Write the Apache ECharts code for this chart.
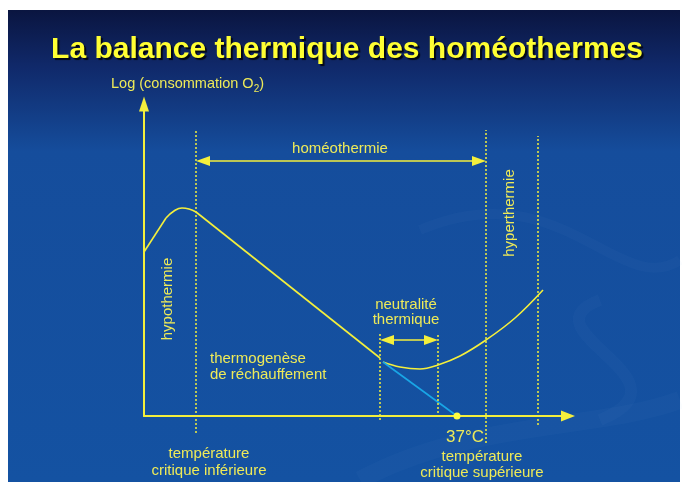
<!DOCTYPE html>
<html>
<head>
<meta charset="utf-8">
<script src="https://cdn.jsdelivr.net/npm/echarts@6/dist/echarts.min.js"></script>
<style>
html,body{margin:0;padding:0;background:#fff;}
#c{width:682px;height:482px;}
</style>
</head>
<body>
<div id="c"></div>
<script>
// Schematic data (x: temperature units, y: log O2 consumption units)
const riseX = [0, 22];
const riseY = [164, 198];
const peakX = [22, 30, 38, 45, 52];
const peakY = [198, 205, 208, 207, 204];
const declineX = [52, 236];
const declineY = [204, 58];
const bowlX = [239, 256, 276, 294, 316, 342, 371, 399];
const bowlY = [54, 49, 47, 51, 60, 76, 98, 126];
const extrapX = [239, 313];
const extrapY = [54, 0];
const bodyTempX = [313];
const bodyTempY = [0];
const limitX = [52, 236, 294, 342, 394];
const limitTop = [286, 83, 83, 286, 280];
const limitBottom = [-17, -4, -1, -27, -9];
const homeoArrow = { y: 255, from: 52, to: 342 };
const neutralArrow = { y: 76, from: 236, to: 294 };

const YEL = '#f4ef3c';
const TXT = '#eeea58';
const FONT = '"Liberation Sans", Arial, sans-serif';

function pairs(xs, ys) { return xs.map((x, i) => [x, ys[i]]); }
function measure(t, font) {
  const c = document.createElement('canvas').getContext('2d');
  c.font = font; return c.measureText(t).width;
}

const series = [];
const curveStyle = { color: YEL, width: 1.6 };
series.push({ type: 'line', data: pairs(riseX, riseY), symbol: 'none', lineStyle: curveStyle, silent: true });
series.push({ type: 'line', data: pairs(peakX, peakY), smooth: 0.5, symbol: 'none', lineStyle: curveStyle, silent: true });
series.push({ type: 'line', data: pairs(declineX, declineY), symbol: 'none', lineStyle: curveStyle, silent: true });
series.push({ type: 'line', data: pairs(bowlX, bowlY), smooth: 0.4, symbol: 'none', lineStyle: curveStyle, silent: true });
series.push({ type: 'line', data: pairs(extrapX, extrapY), symbol: 'none', lineStyle: { color: '#19a6e6', width: 1.6 }, silent: true });
series.push({ type: 'scatter', data: pairs(bodyTempX, bodyTempY), symbolSize: 7, itemStyle: { color: '#ffff40', opacity: 1 }, silent: true, z: 10 });
limitX.forEach((x, i) => {
  series.push({ type: 'line', data: [[x, limitBottom[i]], [x, limitTop[i]]], symbol: 'none', clip: false,
    lineStyle: { color: YEL, width: 1.5, type: [2, 2] }, silent: true });
});
const AH = 14;
series.push({
  type: 'line', data: [], silent: true,
  markLine: {
    silent: true, animation: false,
    symbol: ['triangle', 'triangle'],
    symbolSize: [10, AH],
    label: { show: false },
    lineStyle: { color: YEL, width: 1.5, type: 'solid' },
    data: [
      [{ coord: [homeoArrow.from + AH / 2, homeoArrow.y] }, { coord: [homeoArrow.to - AH / 2, homeoArrow.y] }],
      [{ coord: [neutralArrow.from + AH / 2, neutralArrow.y] }, { coord: [neutralArrow.to - AH / 2, neutralArrow.y] }]
    ]
  }
});

function txt(text, x, y, size, opts) {
  return Object.assign({
    type: 'text', x: x, y: y, z: 50,
    style: Object.assign({ text: text, fill: TXT, font: size + 'px ' + FONT, align: 'center', verticalAlign: 'middle' }, (opts && opts.style) || {})
  }, opts && opts.el || {});
}

const logMain = 'Log (consommation O';
const w1 = measure(logMain, '14.5px ' + FONT);
const w2 = measure('2', '10px ' + FONT);

const swirl = 'rgba(140,190,240,0.04)';
const chart = echarts.init(document.getElementById('c'), null, { renderer: 'canvas' });
chart.setOption({
  animation: false,
  backgroundColor: '#ffffff',
  grid: { left: 144, top: 104, width: 424, height: 312 },
  xAxis: {
    type: 'value', min: 0, max: 424,
    axisLine: { show: true, symbol: ['none', 'triangle'], symbolSize: [11, 14], lineStyle: { color: YEL, width: 2 } },
    axisTick: { show: false }, axisLabel: { show: false }, splitLine: { show: false }
  },
  yAxis: {
    type: 'value', min: 0, max: 312,
    axisLine: { show: true, symbol: ['none', 'triangle'], symbolSize: [10, 15], lineStyle: { color: YEL, width: 2 } },
    axisTick: { show: false }, axisLabel: { show: false }, splitLine: { show: false }
  },
  series: series,
  graphic: [
    { type: 'rect', z: -100, shape: { x: 8, y: 10, width: 672, height: 472 },
      style: { fill: new echarts.graphic.LinearGradient(0, 0, 0, 1, [
        { offset: 0, color: '#0a1540' },
        { offset: 0.12, color: '#10296a' },
        { offset: 0.3, color: '#154d9c' },
        { offset: 1, color: '#1452a2' }
      ]) } },
    { type: 'bezierCurve', z: -90, shape: { x1: 360, y1: 480, x2: 680, y2: 400, cpx1: 470, cpy1: 420, cpx2: 600, cpy2: 430 },
      style: { stroke: swirl, lineWidth: 18, fill: null } },
    { type: 'bezierCurve', z: -90, shape: { x1: 420, y1: 230, x2: 680, y2: 260, cpx1: 560, cpy1: 170, cpx2: 620, cpy2: 300 },
      style: { stroke: swirl, lineWidth: 10, fill: null } },
    { type: 'bezierCurve', z: -90, shape: { x1: 600, y1: 300, x2: 600, y2: 420, cpx1: 520, cpy1: 330, cpx2: 700, cpy2: 380 },
      style: { stroke: swirl, lineWidth: 12, fill: null } },
    { type: 'text', x: 347, y: 50, z: 50,
      style: { text: 'La balance thermique des homéothermes', fill: '#ffff33', font: 'bold 30px ' + FONT,
        align: 'center', verticalAlign: 'middle',
        textShadowColor: 'rgba(0,0,0,0.8)', textShadowOffsetX: 2, textShadowOffsetY: 2, textShadowBlur: 1 } },
    txt(logMain, 111, 84, 14.5, { style: { align: 'left' } }),
    txt('2', 111 + w1, 89, 10, { style: { align: 'left' } }),
    txt(')', 111 + w1 + w2, 84, 14.5, { style: { align: 'left' } }),
    txt('homéothermie', 340, 149, 15),
    txt('hypothermie', 168, 299, 15, { el: { rotation: Math.PI / 2 } }),
    txt('hyperthermie', 510, 213, 15, { el: { rotation: Math.PI / 2 } }),
    txt('neutralité', 406, 305, 15),
    txt('thermique', 406, 320, 15),
    txt('thermogenèse', 210, 359, 15, { style: { align: 'left' } }),
    txt('de réchauffement', 210, 375, 15, { style: { align: 'left' } }),
    txt('température', 209, 454, 15),
    txt('critique inférieure', 209, 471, 15),
    txt('37°C', 465, 437, 17),
    txt('température', 482, 457, 15),
    txt('critique supérieure', 482, 473, 15)
  ]
});
</script>
</body>
</html>
